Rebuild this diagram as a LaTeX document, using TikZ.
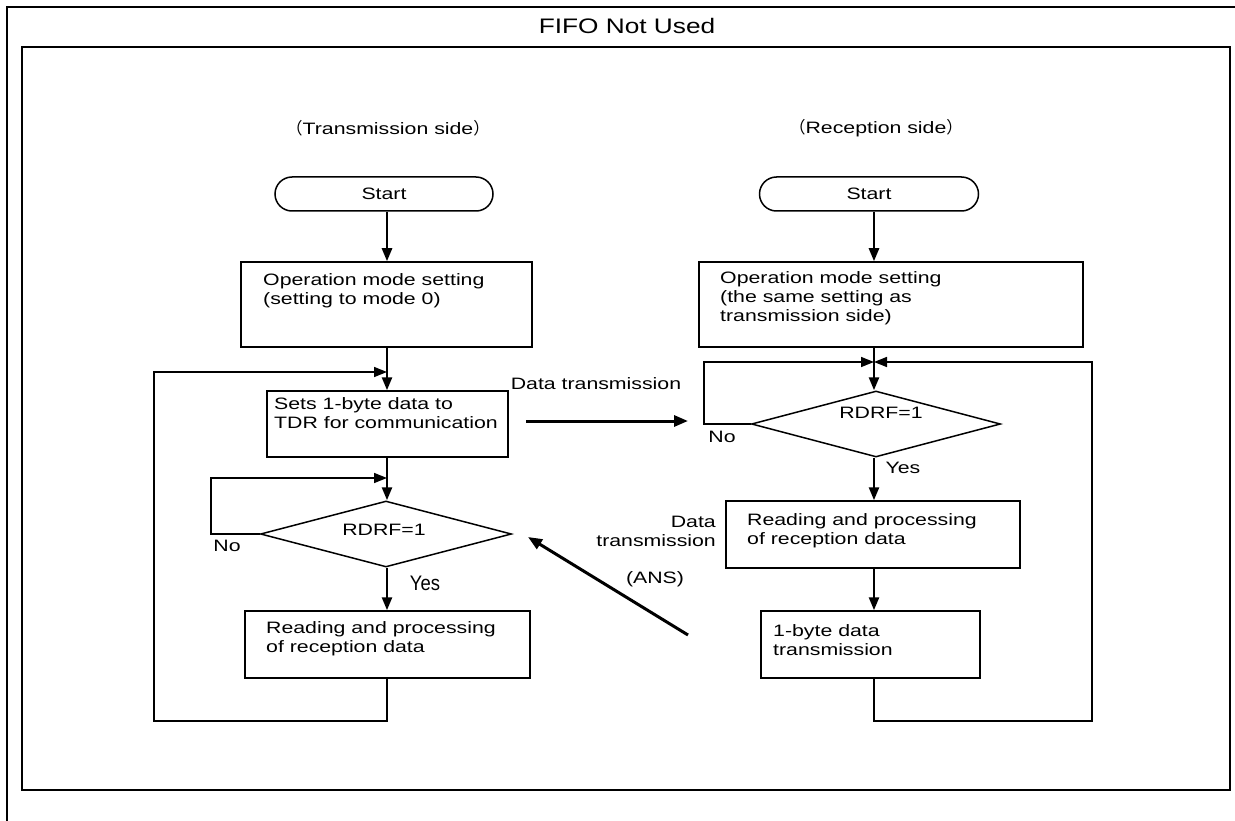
\documentclass[tikz,border=0pt]{standalone}
\usepackage{fontspec}
\setmainfont{Liberation Sans}
\newfontfamily\widefont[FakeStretch=1.29]{Liberation Sans}
\newfontfamily\titlefont[FakeStretch=1.25]{Liberation Sans}
\newfontfamily\narrowfont[FakeStretch=0.88]{Liberation Sans}
\newfontfamily\cjk{Noto Sans CJK JP}
\usetikzlibrary{shapes.geometric,arrows.meta}
\tikzset{
  body/.style={font=\widefont\fontsize{16.5}{19}\selectfont},
  txt/.style={body, inner sep=0pt, anchor=north west, align=left},
  lbl/.style={body, inner sep=0pt, anchor=center},
  box/.style={draw, line width=1.5pt, inner sep=0pt},
  term/.style={box, rounded corners=17pt, minimum height=34pt, body},
  dec/.style={draw, line width=1.5pt, diamond, inner sep=0pt},
  arr/.style={line width=2.5pt, -{Triangle[length=13pt,width=10pt]}},
  thinarr/.style={line width=1.5pt, -{Triangle[length=13pt,width=10pt]}},
  bigarr/.style={line width=3pt, -{Triangle[length=14pt,width=11pt]}},
  frame/.style={line width=2.5pt}
}
\begin{document}
\begin{tikzpicture}[x=1pt,y=-1pt]
\useasboundingbox (0,0) rectangle (1235,821);
% frames
\draw[frame] (7,821) -- (7,7) -- (1235,7);
\draw[frame] (22,47) rectangle (1230,790);
\node[inner sep=0pt, font=\titlefont\fontsize{21}{24}\selectfont] (title) at (627,26) {FIFO Not Used};

% headings
\node[lbl] (hL) at (388,128) {{\cjk （}Transmission side{\cjk ）}};
\node[lbl] (hR) at (876,128) {{\cjk （}Reception side{\cjk ）}};

\coordinate (cL) at (387,0);
\coordinate (cR) at (874,0);

% left column
\node[term, minimum width=218pt] (startL) at (384,194) {Start};
\node[box, minimum width=291pt, minimum height=85pt] (opL) at (386.5,304.5) {};
\node[txt] (opLt) at (263,273) {Operation mode setting\\(setting to mode 0)};
\node[box, minimum width=241pt, minimum height=66pt] (setsL) at (387.5,424) {};
\node[txt] (setsLt) at (274,397) {Sets 1-byte data to\\TDR for communication};
\node[dec, minimum width=251pt, minimum height=66pt] (decL) at (386,534) {};
\node[lbl] (decLt) at (384,530) {RDRF=1};
\node[box, minimum width=285pt, minimum height=67pt] (readL) at (387.5,644.5) {};
\node[txt] (readLt) at (266,621) {Reading and processing\\of reception data};
\node[lbl] (noL) at (227,546) {No};
\node[inner sep=0pt, font=\narrowfont\fontsize{21}{24}\selectfont] (yesL) at (425,583) {Yes};

\draw[arr] (startL.south -| cL) -- (opL.north -| cL);
\draw[arr] (opL.south -| cL) -- (setsL.north -| cL);
\draw[arr] (setsL.south -| cL) -- (decL.north -| cL);
\draw[arr] (decL.south -| cL) -- (readL.north -| cL);
\coordinate (loopL) at (154,721);
\coordinate (mergeL) at (387,372);
\draw[thinarr] (readL.south -| cL) |- (loopL) |- (mergeL);
\coordinate (noLc) at (211,478);
\coordinate (mergeL2) at (387,478);
\draw[thinarr] (decL.west) -| (noLc) -- (mergeL2);

% right column
\node[term, minimum width=219pt] (startR) at (869,194) {Start};
\node[box, minimum width=384pt, minimum height=85pt] (opR) at (891,304.5) {};
\node[txt] (opRt) at (720,271) {Operation mode setting\\(the same setting as\\transmission side)};
\node[dec, minimum width=249pt, minimum height=66pt] (decR) at (876,424) {};
\node[lbl] (decRt) at (881,413) {RDRF=1};
\node[lbl] (noR) at (722,437) {No};
\node[lbl] (yesR) at (903,468) {Yes};
\node[box, minimum width=294pt, minimum height=67pt] (readR) at (873,534.5) {};
\node[txt] (readRt) at (747,513) {Reading and processing\\of reception data};
\node[box, minimum width=219pt, minimum height=67pt] (sendR) at (870.5,644.5) {};
\node[txt] (sendRt) at (773,624) {1-byte data\\transmission};

\draw[arr] (startR.south -| cR) -- (opR.north -| cR);
\draw[arr] (opR.south -| cR) -- (decR.north -| cR);
\draw[arr] (decR.south -| cR) -- (readR.north -| cR);
\draw[arr] (readR.south -| cR) -- (sendR.north -| cR);
\coordinate (mR) at (874,362);
\coordinate (noRc) at (704,362);
\draw[thinarr] (decR.west) -| (noRc) -- (mR);
\coordinate (loopR) at (1092,721);
\draw[thinarr] (sendR.south -| cR) |- (loopR) |- (mR);

% communication arrows
\coordinate (dtS) at (526,421);
\coordinate (dtE) at (688,421);
\draw[bigarr] (dtS) -- (dtE);
\node[lbl] (dtl) at (596,384) {Data transmission};
\coordinate (ansS) at (688,635);
\coordinate (ansE) at (528,537);
\draw[bigarr] (ansS) -- (ansE);
\node[lbl] (ansl) at (655,579) {(ANS)};
\node[body, inner sep=0pt, anchor=north east, align=right] (dt2) at (716,516) {Data\\transmission};
\end{tikzpicture}
\end{document}
